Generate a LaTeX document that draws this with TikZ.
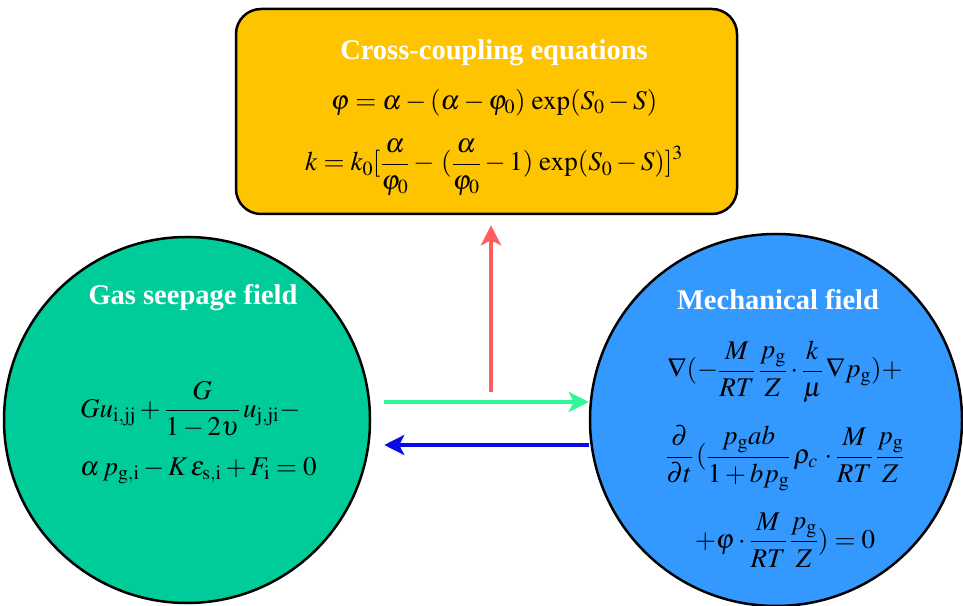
\documentclass[tikz,border=0pt]{standalone}
\usepackage{mathptmx}
\usepackage[no-math]{fontspec}
\setmainfont{Liberation Serif}
\usetikzlibrary{arrows.meta}

\definecolor{couplingyellow}{HTML}{FFC400}
\definecolor{seepgreen}{HTML}{00CC99}
\definecolor{mechblue}{HTML}{3399FF}
\definecolor{arrowred}{HTML}{FF5E5E}
\definecolor{arrowgreen}{HTML}{33F59A}
\definecolor{arrowblue}{HTML}{0A0AE6}

\tikzset{
  field/.style={circle, draw=black, line width=2.5pt, inner sep=0pt},
  heading/.style={text=white, font=\fontsize{28.5}{33}\selectfont\bfseries},
  eqn/.style={font=\fontsize{27}{32}\selectfont, inner sep=0pt},
  flow/.style={line width=4pt, -{Stealth[length=20pt, width=20pt, inset=5pt]}}
}

\begin{document}
\begin{tikzpicture}[x=1pt, y=1pt]

        \useasboundingbox (0,0) rectangle (963,605);

        % Coupling box
        \node[draw=black, line width=2.5pt, fill=couplingyellow, rounded corners=25pt,
              minimum width=501pt, minimum height=205pt] (coupling) at (486.5,493.5) {};
        \node[heading] (couplingtitle) at (494,552) {Cross-coupling equations};
        \node[eqn, align=center] (couplingeqs) at (494,462.5)
            {$\varphi=\alpha-(\alpha-\varphi_0)\,\exp(S_0-S)$\hspace{8pt}\\[22pt]
             $\displaystyle k=k_0[\frac{\alpha}{\varphi_0}-\,(\frac{\alpha}{\varphi_0}-1)\,\exp(S_0-S)]^3$};

        % Gas seepage field
        \node[field, fill=seepgreen, minimum size=366pt] (seepage) at (187,185) {};
        \node[heading] (seeptitle) at (193,307) {Gas seepage field};
        \node[eqn, align=left, anchor=west] (seepeqs) at (80,172.5)
            {$\displaystyle Gu_{\mathrm{i,jj}}+\frac{G}{1-2\upsilon}\,u_{\mathrm{j,ji}}-$\\[18pt]
             $\alpha\, p_{\mathrm{g,i}}-K\,\varepsilon_{\mathrm{s,i}}+F_{\mathrm{i}}=0$};

        % Mechanical field
        \node[field, fill=mechblue, minimum size=372pt] (mechanical) at (776,185) {};
        \node[heading] (mechtitle) at (778,305) {Mechanical field};
        \node[eqn, align=center] (mecheqs) at (785,151)
            {$\displaystyle \nabla(-\frac{M}{RT}\,\frac{p_{\mathrm{g}}}{Z}\cdot\frac{k}{\mu}\,\nabla p_{\mathrm{g}})+$\\[22pt]
             $\displaystyle \frac{\partial}{\partial t}\,(\frac{p_{\mathrm{g}}ab}{1+bp_{\mathrm{g}}}\,\rho_c\,\cdot\frac{M}{RT}\,\frac{p_{\mathrm{g}}}{Z}$\\[21pt]
             $\displaystyle +\varphi\cdot\frac{M}{RT}\,\frac{p_{\mathrm{g}}}{Z})=0$};

        % Arrows between the fields
        \coordinate (hub) at (491,213);
        \draw[flow, arrowred] (hub) -- ([xshift=4.5pt, yshift=-10pt]coupling.south);
        \draw[flow, arrowgreen] ([xshift=13pt, yshift=18pt]seepage.east) -- ([yshift=18pt]mechanical.west);
        \draw[flow, arrowblue] ([yshift=-25pt]mechanical.west) -- ([xshift=13pt, yshift=-25pt]seepage.east);

\end{tikzpicture}
\end{document}
